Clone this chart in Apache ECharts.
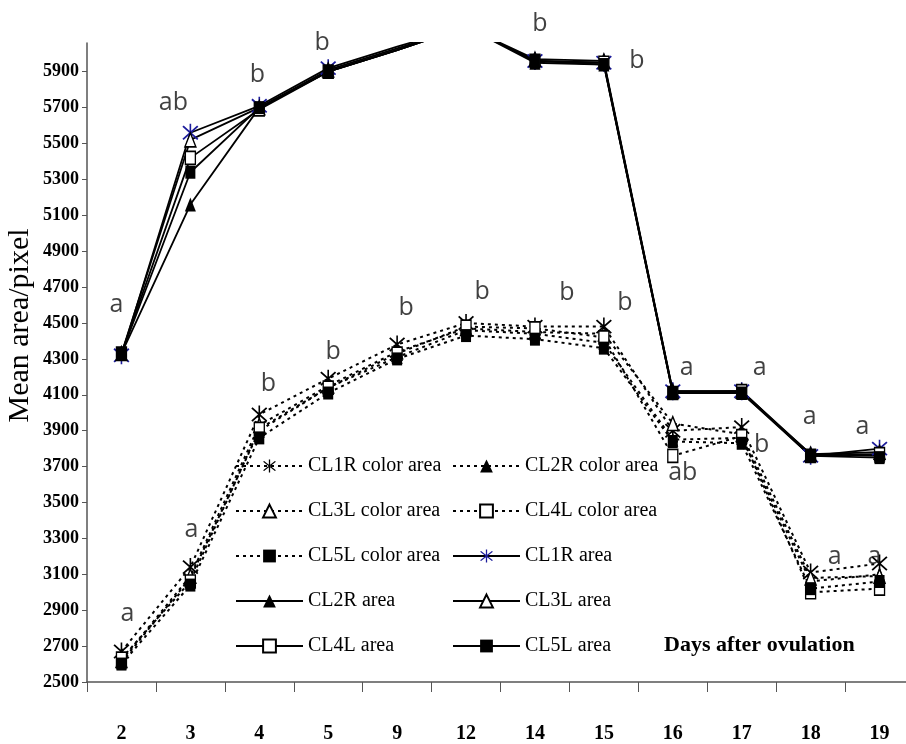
<!DOCTYPE html>
<html>
<head>
<meta charset="utf-8">
<script src="https://cdn.jsdelivr.net/npm/echarts@6/dist/echarts.min.js"></script>
<style>html,body{margin:0;padding:0;background:#fff;overflow:hidden}#c{width:906px;height:744px}</style>
</head>
<body>
<div id="c"></div>
<script>
// ---- data ----
const days = ['2','3','4','5','9','12','14','15','16','17','18','19'];
const yTickValues = [2500,2700,2900,3100,3300,3500,3700,3900,4100,4300,4500,4700,4900,5100,5300,5500,5700,5900];

const cl1rColor = [2670,3140,3990,4190,4380,4500,4480,4480,3900,3920,3110,3160];
const cl2rColor = [2610,3080,3900,4140,4310,4460,4440,4390,3850,3860,3060,3100];
const cl3lColor = [2620,3090,3930,4150,4340,4470,4450,4440,3940,3880,3080,3090];
const cl4lColor = [2630,3060,3910,4140,4330,4480,4470,4420,3760,3870,3000,3020];
const cl5lColor = [2600,3040,3860,4110,4300,4430,4410,4360,3840,3830,3020,3060];

const cl1rArea = [4320,5560,5710,5920,6040,6150,5960,5950,4120,4120,3760,3800];
const cl2rArea = [4330,5160,5700,5900,6020,6150,5950,5940,4110,4110,3770,3760];
const cl3lArea = [4330,5520,5700,5910,6030,6150,5970,5960,4120,4120,3770,3780];
const cl4lArea = [4330,5420,5690,5900,6020,6150,5960,5950,4110,4120,3760,3770];
const cl5lArea = [4330,5340,5700,5900,6020,6150,5960,5940,4110,4110,3760,3750];

const upperLetters = ['a','ab','b','b','','','b','b','a','a','a','a'];
const lowerLetters = ['a','a','b','b','b','b','b','b','ab','b','a','a'];

const xName = 'Days after ovulation';
const yName = 'Mean area/pixel';

// ---- styling (positions of letter labels relative to their points) ----
const upperOffsets = [[-5,-50],[-17,-30],[-2,-31],[-6,-25],[0,0],[0,0],[5,-37],[33,-2],[14,-23],[18,-23],[-1,-39],[-17,-22]];
const lowerOffsets = [[6,-38],[1,-37],[9,-31],[5,-27],[9,-37],[16,-31],[32,-34],[21,-24],[10,42],[20,18],[24,-16],[-5,-7]];

const axisMax = 6060;
const shownMax = 6000;
const serif = "'Liberation Serif','Times New Roman',serif";

const starPath = 'path://M9.1,0L10.9,0L10.9,20L9.1,20Z M1.0,3.4L2.4,2.0L19.0,16.6L17.6,18.0Z M17.6,2.0L19.0,3.4L2.4,18.0L1.0,16.6Z';

const markers = {
  star:  {symbol: starPath, size: [16,18]},
  tri:   {symbol: 'triangle', size: [11,14]},
  rect:  {symbol: 'rect', size: [10,13]}
};

function mk(name, values, dotted, marker, fill, border) {
  return {
    name: name,
    type: 'line',
    data: values.map(v => v > shownMax ? {value: v, symbol: 'none'} : v),
    smooth: false,
    symbol: marker.symbol,
    symbolSize: marker.size,
    showAllSymbol: true,
    clip: true,
    lineStyle: {color: '#000', width: dotted ? 2 : 1.8, type: dotted ? [3,4] : 'solid'},
    itemStyle: {color: fill, borderColor: border, borderWidth: fill === '#fff' ? 1.5 : 0, opacity: 1},
    emphasis: {disabled: true},
    z: dotted ? 2 : 3
  };
}

const series = [
  mk('CL1R color area', cl1rColor, true, markers.star, '#000', '#000'),
  mk('CL2R color area', cl2rColor, true, markers.tri, '#000', '#000'),
  mk('CL3L color area', cl3lColor, true, markers.tri, '#fff', '#000'),
  mk('CL4L color area', cl4lColor, true, markers.rect, '#fff', '#000'),
  mk('CL5L color area', cl5lColor, true, markers.rect, '#000', '#000'),
  mk('CL1R area', cl1rArea, false, markers.star, '#1c1c9c', '#1c1c9c'),
  mk('CL2R area', cl2rArea, false, markers.tri, '#000', '#000'),
  mk('CL3L area', cl3lArea, false, markers.tri, '#fff', '#000'),
  mk('CL4L area', cl4lArea, false, markers.rect, '#fff', '#000'),
  mk('CL5L area', cl5lArea, false, markers.rect, '#000', '#000')
];

function letterSeries(letters, anchor, offsets) {
  const data = [];
  letters.forEach((l, i) => {
    if (!l) return;
    data.push({value: [i, anchor[i]], label: {formatter: l, offset: offsets[i]}});
  });
  return {
    type: 'scatter',
    data: data,
    symbolSize: 1,
    itemStyle: {color: 'transparent'},
    label: {show: true, position: 'inside', fontFamily: "'Open Sans','Noto Sans',sans-serif", fontSize: 25, color: '#111'},
    clip: false,
    silent: true,
    z: 10
  };
}
series.push(letterSeries(upperLetters, cl1rArea, upperOffsets));
series.push(letterSeries(lowerLetters, cl1rColor, lowerOffsets));

const legendText = {fontFamily: serif, fontSize: 20, color: '#000', lineHeight: 22};
const legendCommon = {
  orient: 'vertical', itemWidth: 67, itemHeight: 16, itemGap: 23,
  selectedMode: false, textStyle: legendText, top: 455, padding: 0
};

const chart = echarts.init(document.getElementById('c'), null, {renderer: 'canvas'});
chart.setOption({
  animation: false,
  backgroundColor: '#fff',
  title: {
    text: xName, left: 664, top: 634, padding: 0,
    textStyle: {fontFamily: serif, fontWeight: 'bold', fontSize: 22, color: '#000'}
  },
  legend: [
    Object.assign({}, legendCommon, {left: 235, data: ['CL1R color area','CL3L color area','CL5L color area','CL2R area','CL4L area']}),
    Object.assign({}, legendCommon, {left: 452, data: ['CL2R color area','CL4L color area','CL1R area','CL3L area','CL5L area']})
  ],
  grid: {left: 87, width: 827, top: 43, bottom: 62, containLabel: false, outerBoundsMode: 'none'},
  xAxis: {
    type: 'category',
    data: days,
    boundaryGap: true,
    axisLine: {lineStyle: {color: '#555', width: 1.5}},
    axisTick: {show: true, length: 10, inside: false, lineStyle: {color: '#555', width: 1}},
    axisLabel: {fontFamily: serif, fontWeight: 'bold', fontSize: 20, color: '#000', margin: 42},
    splitLine: {show: false}
  },
  yAxis: {
    type: 'value',
    min: 2500,
    max: axisMax,
    name: yName,
    nameLocation: 'middle',
    nameGap: 52,
    nameMoveOverlap: false,
    nameRotate: 90,
    nameTextStyle: {fontFamily: serif, fontSize: 30, color: '#000', padding: [0,0,0,74]},
    axisLine: {show: true, lineStyle: {color: '#555', width: 1.5}},
    axisTick: {show: true, length: 5, customValues: yTickValues, lineStyle: {color: '#555'}},
    axisLabel: {customValues: yTickValues, formatter: v => String(v), fontFamily: serif, fontWeight: 'bold', fontSize: 18, color: '#000', margin: 8},
    splitLine: {show: false}
  },
  series: series
});
</script>
</body>
</html>
